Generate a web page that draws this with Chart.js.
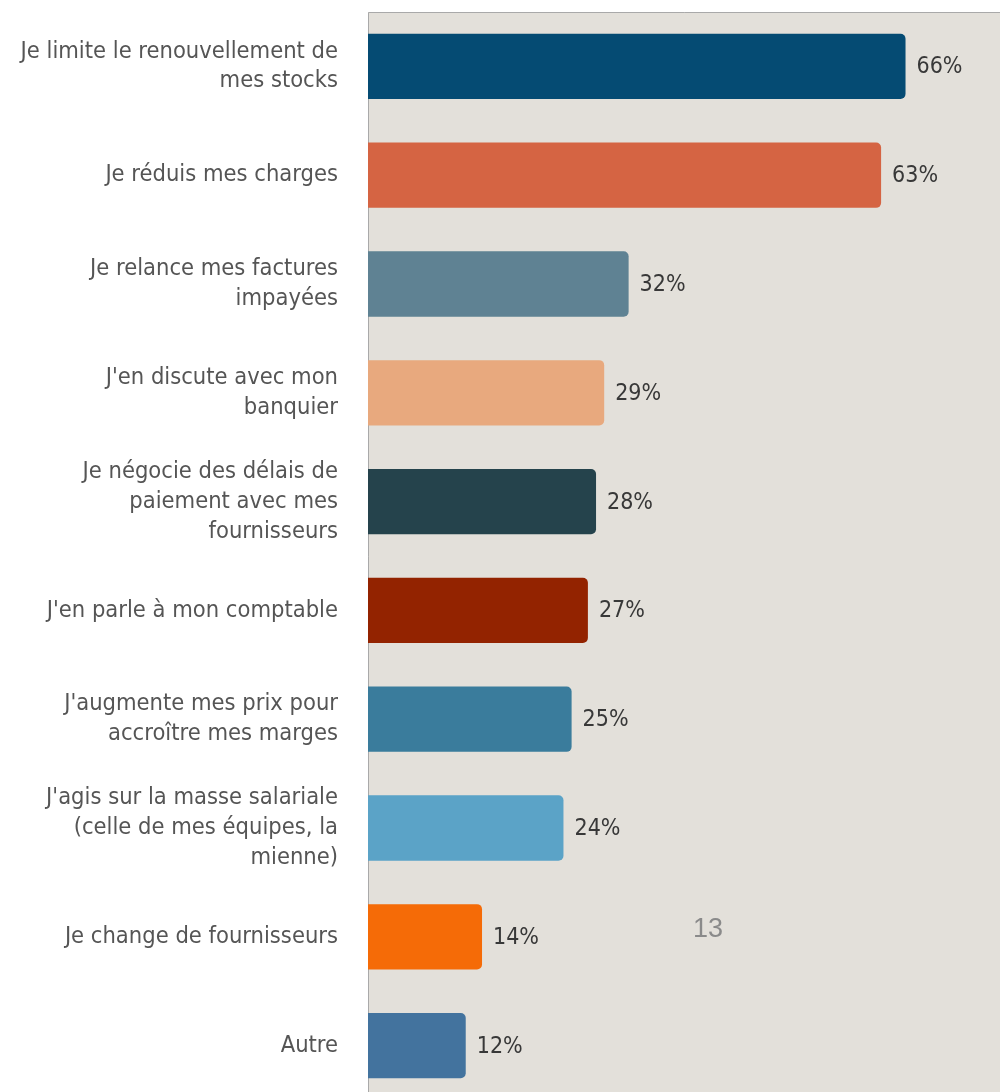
<!DOCTYPE html>
<html>
<head>
<meta charset="utf-8">
<script src="https://cdn.jsdelivr.net/npm/chart.js@4/dist/chart.umd.min.js"></script>
<style>
  html, body { margin: 0; padding: 0; background: #fff; overflow: hidden; }
  #wrap { position: relative; width: 1000px; height: 1100px; }
  #page-num {
    position: absolute; left: 693px; top: 913px;
    font-family: "Liberation Sans", sans-serif; font-size: 27px; color: #8a8a8a;
  }
</style>
</head>
<body>
<div id="wrap">
  <canvas id="chart" width="1000" height="1100"></canvas>
  <div id="page-num">13</div>
</div>
<script>
// actions face aux difficultés de trésorerie
const labels = [
  ["Je limite le renouvellement de", "mes stocks"],
  "Je réduis mes charges",
  ["Je relance mes factures", "impayées"],
  ["J'en discute avec mon", "banquier"],
  ["Je négocie des délais de", "paiement avec mes", "fournisseurs"],
  "J'en parle à mon comptable",
  ["J'augmente mes prix pour", "accroître mes marges"],
  ["J'agis sur la masse salariale", "(celle de mes équipes, la", "mienne)"],
  "Je change de fournisseurs",
  "Autre"
];
const values = [66, 63, 32, 29, 28, 27, 25, 24, 14, 12];
const colors = ["#054B73", "#D56443", "#5F8293", "#E8A97E", "#25434C",
                "#932300", "#3A7C9C", "#5BA3C7", "#F56B07", "#43739E"];

const bgPlugin = {
  id: 'bg',
  beforeDraw(chart) {
    const {ctx, chartArea} = chart;
    ctx.save();
    ctx.fillStyle = "#E3E0DA";
    ctx.fillRect(chartArea.left, chartArea.top, chartArea.right - chartArea.left, chartArea.bottom - chartArea.top);
    ctx.strokeStyle = "#A9A9A9";
    ctx.lineWidth = 1;
    ctx.beginPath();
    ctx.moveTo(chartArea.left + 0.5, chartArea.bottom);
    ctx.lineTo(chartArea.left + 0.5, chartArea.top + 0.5);
    ctx.lineTo(chartArea.right, chartArea.top + 0.5);
    ctx.stroke();
    ctx.restore();
  }
};

const valuePlugin = {
  id: 'values',
  afterDatasetsDraw(chart) {
    const {ctx} = chart;
    const meta = chart.getDatasetMeta(0);
    ctx.save();
    ctx.font = '23px "DejaVu Sans Condensed", sans-serif';
    ctx.fillStyle = "#383838";
    ctx.textBaseline = "middle";
    meta.data.forEach((bar, i) => {
      ctx.fillText(values[i] + "%", bar.x + 11, bar.y + 1);
    });
    ctx.restore();
  }
};

new Chart("chart", {
  type: "bar",
  data: {
    labels: labels,
    datasets: [{
      data: values,
      backgroundColor: colors,
      borderRadius: 5,
      borderSkipped: 'start',
      categoryPercentage: 0.6,
      barPercentage: 1
    }]
  },
  options: {
    indexAxis: 'y',
    responsive: false,
    animation: false,
    layout: {padding: {top: 12, right: 0, bottom: 0, left: 0}},
    plugins: {legend: {display: false}, tooltip: {enabled: false}},
    scales: {
      x: {
        display: false,
        min: 0,
        max: 77.6
      },
      y: {
        afterFit(scale) {
          scale.width = 368;
          scale.paddingTop = 0;
          scale.paddingBottom = 0;
        },
        grid: {display: false, drawTicks: false},
        border: {display: false},
        ticks: {
          padding: 30,
          color: "#555",
          font: {family: "DejaVu Sans Condensed", size: 23.5, lineHeight: 1.27}
        }
      }
    }
  },
  plugins: [bgPlugin, valuePlugin]
});
</script>
</body>
</html>
